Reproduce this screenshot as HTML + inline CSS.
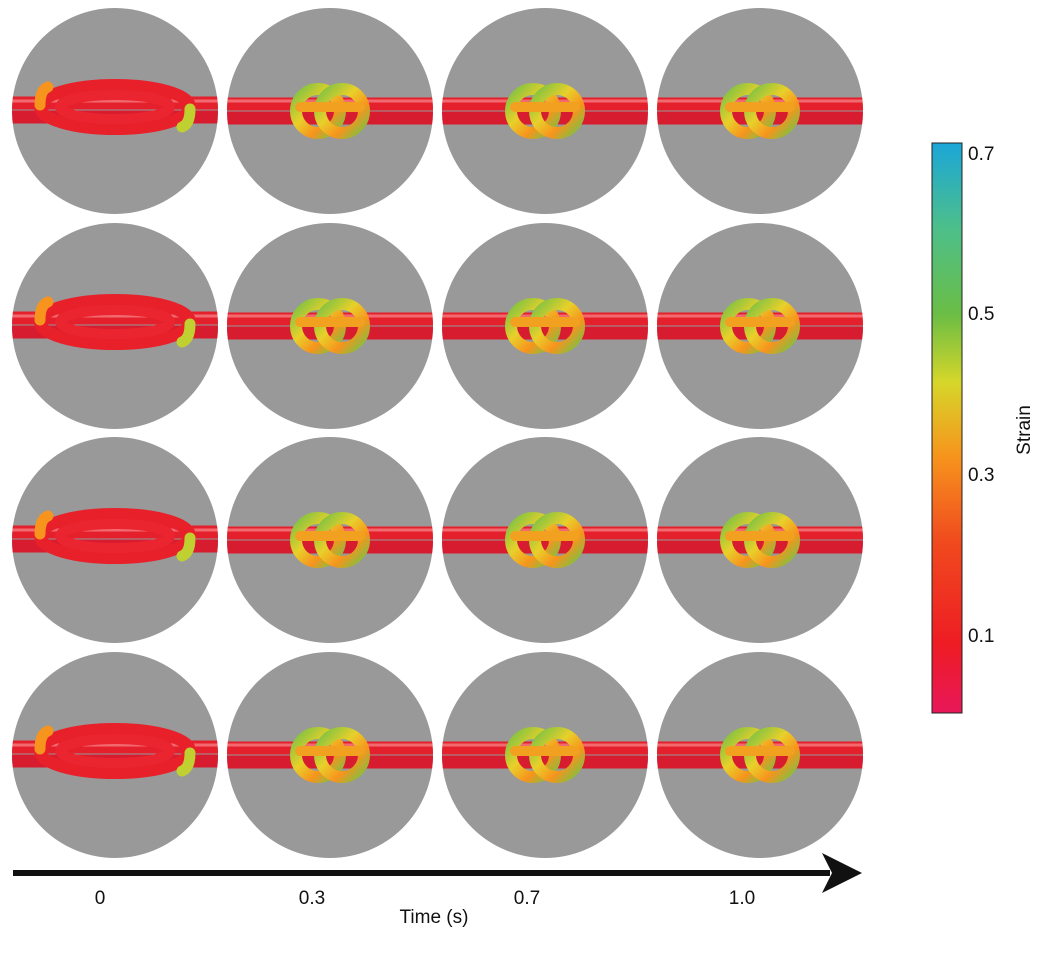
<!DOCTYPE html>
<html><head><style>
body{margin:0;background:#fff;}
svg{display:block;font-family:"Liberation Sans",sans-serif;}
</style></head><body>
<svg width="1060" height="958" viewBox="0 0 1060 958" xmlns="http://www.w3.org/2000/svg">
<defs>
<linearGradient id="cb" x1="0" y1="1" x2="0" y2="0">
<stop offset="0" stop-color="#e8185a"/>
<stop offset="0.12" stop-color="#ee1c24"/>
<stop offset="0.3" stop-color="#f04a1e"/>
<stop offset="0.45" stop-color="#f7941d"/>
<stop offset="0.58" stop-color="#d6d62a"/>
<stop offset="0.7" stop-color="#6abd45"/>
<stop offset="0.85" stop-color="#4dbf8a"/>
<stop offset="1" stop-color="#1ba6d8"/>
</linearGradient>
<linearGradient id="kg" x1="0" y1="0" x2="1" y2="1">
<stop offset="0" stop-color="#7cc242"/><stop offset="0.4" stop-color="#e8d02a"/>
<stop offset="0.7" stop-color="#f7941d"/><stop offset="1" stop-color="#7cc242"/>
</linearGradient>
<clipPath id="c"><circle cx="0" cy="0" r="103"/></clipPath>
<g id="wide">
<circle r="103" fill="#999"/>
<g clip-path="url(#c)" fill="none" stroke-linecap="round">
<path d="M-110,-8 H110" stroke="#e4202c" stroke-width="13"/>
<path d="M-110,6 H110" stroke="#d81c30" stroke-width="13"/>
<path d="M-110,-10 H110" stroke="#f26a70" stroke-width="3"/>
<ellipse cx="0" cy="-4" rx="75" ry="22" stroke="#e8202a" stroke-width="12"/>
<ellipse cx="0" cy="-4" rx="55" ry="12" stroke="#ea2530" stroke-width="10"/>
<path d="M-75,-6 q0,-15 8,-18" stroke="#f7941d" stroke-width="11"/>
<path d="M75,-2 q0,15 -8,18" stroke="#c0d030" stroke-width="11"/>
</g></g>
<g id="small">
<circle r="103" fill="#999"/>
<g clip-path="url(#c)" fill="none" stroke-linecap="round">
<path d="M-110,-7 H110" stroke="#e4202c" stroke-width="13"/>
<path d="M-110,7 H110" stroke="#d81c30" stroke-width="13"/>
<path d="M-110,-10 H110" stroke="#f26a70" stroke-width="3"/>
<ellipse cx="-12" cy="0" rx="22" ry="22" stroke="url(#kg)" stroke-width="12"/>
<ellipse cx="12" cy="0" rx="22" ry="22" stroke="url(#kg)" stroke-width="12"/>
<path d="M-30,-4 H30" stroke="#f2a020" stroke-width="10"/>
</g></g>
</defs>
<use href="#wide" x="115" y="111"/>
<use href="#small" x="330" y="111"/>
<use href="#small" x="545" y="111"/>
<use href="#small" x="760" y="111"/>
<use href="#wide" x="115" y="326"/>
<use href="#small" x="330" y="326"/>
<use href="#small" x="545" y="326"/>
<use href="#small" x="760" y="326"/>
<use href="#wide" x="115" y="540"/>
<use href="#small" x="330" y="540"/>
<use href="#small" x="545" y="540"/>
<use href="#small" x="760" y="540"/>
<use href="#wide" x="115" y="755"/>
<use href="#small" x="330" y="755"/>
<use href="#small" x="545" y="755"/>
<use href="#small" x="760" y="755"/>
<rect x="932" y="143" width="30" height="570" fill="url(#cb)" stroke="#222" stroke-width="1"/>
<g font-size="19" fill="#111">
<text x="968" y="160">0.7</text>
<text x="968" y="320">0.5</text>
<text x="968" y="481">0.3</text>
<text x="968" y="642">0.1</text>
<text transform="translate(1030,430) rotate(-90)" text-anchor="middle">Strain</text>
</g>
<line x1="13" y1="873" x2="830" y2="873" stroke="#111" stroke-width="6"/>
<polygon points="822,853 862,873 822,893 832,873" fill="#111"/>
<g font-size="19" fill="#111" text-anchor="middle">
<text x="100" y="904">0</text>
<text x="312" y="904">0.3</text>
<text x="527" y="904">0.7</text>
<text x="742" y="904">1.0</text>
<text x="434" y="923">Time (s)</text>
</g>
</svg>
</body></html>
